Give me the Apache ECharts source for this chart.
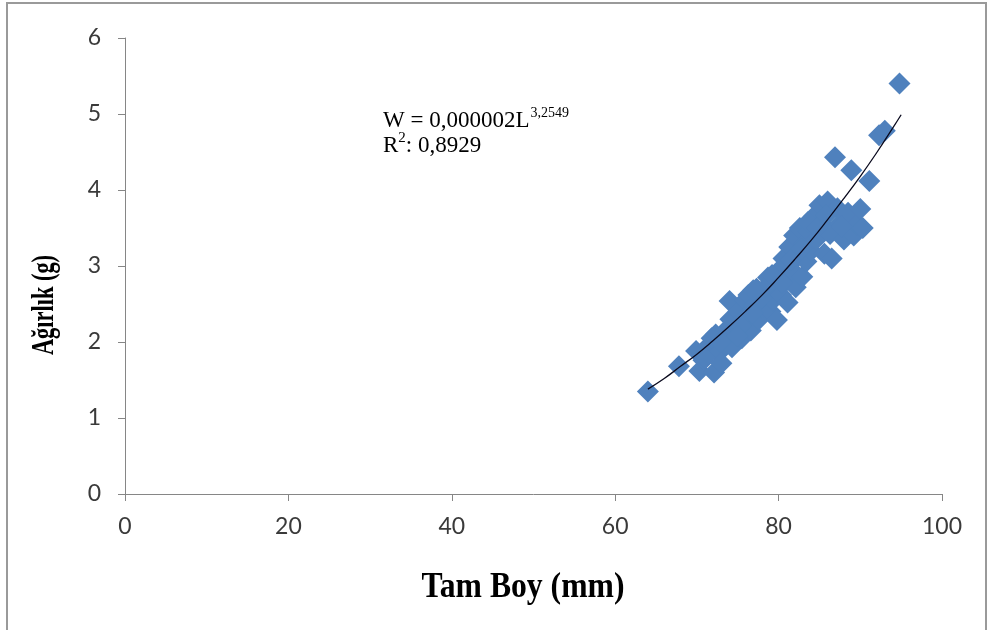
<!DOCTYPE html>
<html>
<head>
<meta charset="UTF-8">
<title>Tam Boy - Ağırlık</title>
<script src="https://cdn.jsdelivr.net/npm/echarts@6/dist/echarts.min.js"></script>
<style>
    html, body { margin: 0; padding: 0; background: #fff; }
    #main { width: 989px; height: 630px; }
</style>
</head>
<body>
<div id="main"></div>
<script type="text/javascript">
    // boy (mm) ve ağırlık (g)
    var boyValues = [64.0, 67.8, 69.9, 70.3, 70.8, 71.4, 72.1, 71.8, 72.6, 73.2,
        73.6, 74.3, 74.8, 74.1, 74.0, 75.1, 75.5, 75.9, 76.3, 76.1,
        76.6, 77.0, 77.3, 77.6, 78.0, 78.3, 78.7, 79.0, 79.3, 79.8,
        79.6, 80.1, 80.3, 80.6, 80.9, 81.1, 81.3, 81.6, 81.9, 82.1,
        82.3, 82.6, 82.9, 83.1, 83.4, 83.7, 84.0, 84.3, 84.6, 85.0,
        85.3, 85.6, 86.0, 86.3, 86.5, 87.2, 87.5, 88.0, 88.5, 86.9,
        88.9, 89.2, 89.6, 90.0, 90.3, 91.1, 92.3, 93.0, 94.8,
        71.0, 72.3, 73.0, 72.9, 75.4, 76.8, 77.9, 78.4, 79.2, 80.4,
        81.5, 82.8, 83.6, 84.8, 85.8, 87.8, 75.0, 76.9];
    var agirlikValues = [1.35, 1.68, 1.88, 1.62, 1.76, 1.95, 1.60, 2.05, 1.85, 2.12,
        1.97, 1.93, 2.20, 2.30, 2.54, 2.40, 2.05, 2.55, 2.62, 2.35,
        2.15, 2.48, 2.70, 2.30, 2.45, 2.62, 2.85, 2.40, 2.55, 2.29,
        2.76, 2.95, 2.62, 3.10, 2.80, 2.52, 3.25, 2.95, 3.40, 2.72,
        3.12, 3.50, 2.86, 3.30, 3.06, 3.45, 3.20, 3.65, 3.35, 3.80,
        3.55, 3.16, 3.85, 3.42, 3.10, 3.76, 3.56, 3.35, 3.70, 4.43,
        4.26, 3.40, 3.55, 3.75, 3.50, 4.12, 4.72, 4.78, 5.40,
        1.80, 2.10, 1.72, 2.00, 2.22, 2.38, 2.58, 2.72, 2.88, 2.78,
        3.08, 3.22, 3.58, 3.50, 3.66, 3.52, 2.08, 2.68];

    // üssel eğilim çizgisi (grafikten okunan noktalar)
    var trendBoy = [64, 66, 68, 70, 72, 74, 76, 78, 80, 82, 84, 86, 88, 90, 92, 94, 95];
    var trendAgirlik = [1.38, 1.52, 1.68, 1.84, 2.02, 2.21, 2.41, 2.62, 2.85, 3.09,
        3.34, 3.61, 3.89, 4.18, 4.49, 4.82, 4.99];

    var xTicks = [0, 20, 40, 60, 80, 100];
    var yTicks = [0, 1, 2, 3, 4, 5, 6];

    var scatterData = [];
    for (var i = 0; i < boyValues.length; i++) {
        scatterData.push([boyValues[i], agirlikValues[i]]);
    }
    var trendData = [];
    for (var j = 0; j < trendBoy.length; j++) {
        trendData.push([trendBoy[j], trendAgirlik[j]]);
    }

    var chart = echarts.init(document.getElementById('main'));
    var axisColor = '#868686';
    var labelFont = 'Lato, "Open Sans", sans-serif';
    var serifFont = '"Liberation Serif", "Times New Roman", serif';

    chart.setOption({
        animation: false,
        backgroundColor: '#fff',
        grid: {left: 125, right: 47, top: 38, bottom: 136},
        xAxis: {
            type: 'value',
            min: xTicks[0],
            max: xTicks[xTicks.length - 1],
            interval: 20,
            splitLine: {show: false},
            axisLine: {lineStyle: {color: axisColor, width: 1}},
            axisTick: {length: 7, lineStyle: {color: axisColor}},
            axisLabel: {margin: 21, fontSize: 23, color: '#3a3a3a', fontFamily: labelFont}
        },
        yAxis: {
            type: 'value',
            min: yTicks[0],
            max: yTicks[yTicks.length - 1],
            interval: 1,
            splitLine: {show: false},
            axisLine: {show: true, lineStyle: {color: axisColor, width: 1}},
            axisTick: {show: true, length: 7, lineStyle: {color: axisColor}},
            axisLabel: {margin: 24, fontSize: 23, color: '#3a3a3a', fontFamily: labelFont}
        },
        series: [
            {
                type: 'scatter',
                data: scatterData,
                symbol: 'diamond',
                symbolSize: 22,
                itemStyle: {color: '#4F81BD', opacity: 1},
                z: 2
            },
            {
                type: 'line',
                data: trendData,
                smooth: true,
                showSymbol: false,
                lineStyle: {color: '#0a0a1e', width: 1.3},
                z: 3
            }
        ],
        graphic: [
            {
                type: 'rect',
                shape: {x: 7, y: 3, width: 979, height: 640},
                style: {fill: 'none', stroke: '#9a9a9a', lineWidth: 2}
            },
            {
                type: 'text',
                left: 383,
                top: 106,
                style: {
                    text: '{m|W = 0,000002L}{s|3,2549}',
                    rich: {
                        m: {fontSize: 23, fontFamily: serifFont, fill: '#000', lineHeight: 26, verticalAlign: 'bottom'},
                        s: {fontSize: 14, fontFamily: serifFont, fill: '#000', lineHeight: 26, verticalAlign: 'top', padding: [0, 0, 0, 1]}
                    }
                }
            },
            {
                type: 'text',
                left: 383,
                top: 131,
                style: {
                    text: '{m|R}{s|2}{m|: 0,8929}',
                    rich: {
                        m: {fontSize: 23, fontFamily: serifFont, fill: '#000', lineHeight: 26, verticalAlign: 'bottom'},
                        s: {fontSize: 15, fontFamily: serifFont, fill: '#000', lineHeight: 26, verticalAlign: 'top'}
                    }
                }
            },
            {
                type: 'text',
                x: 523,
                y: 588,
                scaleX: 0.88,
                style: {
                    text: 'Tam Boy (mm)',
                    font: 'bold 36px ' + serifFont,
                    fill: '#000',
                    align: 'center',
                    verticalAlign: 'middle'
                }
            },
            {
                type: 'text',
                x: 45,
                y: 305,
                rotation: Math.PI / 2,
                scaleX: 0.7,
                style: {
                    text: 'Ağırlık (g)',
                    font: 'bold 32px ' + serifFont,
                    fill: '#000',
                    align: 'center',
                    verticalAlign: 'middle'
                }
            }
        ]
    });
</script>
</body>
</html>
